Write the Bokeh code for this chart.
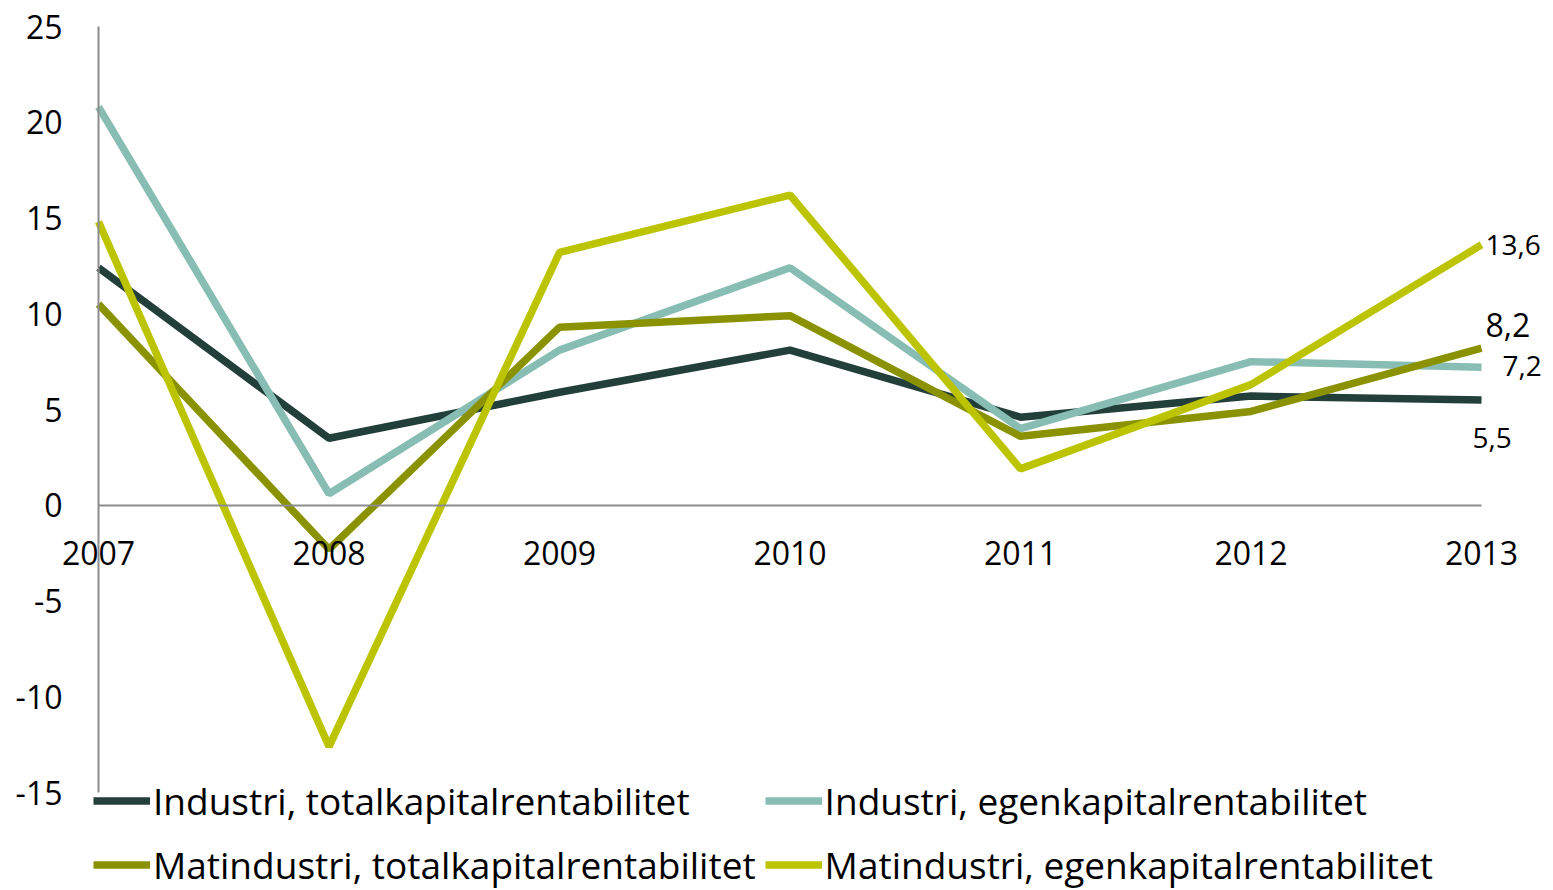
from bokeh.plotting import figure
from bokeh.models import Range1d, FixedTicker, Legend, LegendItem, ColumnDataSource
from bokeh.core.properties import value
from bokeh.embed import file_html
from bokeh.resources import INLINE

years = [2007, 2008, 2009, 2010, 2011, 2012, 2013]
industri_total = [12.4, 3.5, 5.9, 8.1, 4.6, 5.7, 5.5]
industri_egen = [20.8, 0.6, 8.1, 12.4, 4.0, 7.5, 7.2]
mat_total = [10.5, -2.3, 9.3, 9.9, 3.6, 4.9, 8.2]
mat_egen = [14.8, -12.6, 13.2, 16.2, 1.9, 6.3, 13.6]
y_ticks = [-15, -10, -5, 0, 5, 10, 15, 20, 25]
names = ["Industri, totalkapitalrentabilitet", "Industri, egenkapitalrentabilitet",
         "Matindustri, totalkapitalrentabilitet", "Matindustri, egenkapitalrentabilitet"]
colors = ["#233F3A", "#87BDB3", "#8B9200", "#BCC400"]

FONT = "Open Sans"
W, H = 1553, 890

# layout (pixels): where the data box sits inside the canvas
X_LEFT_PX, X_RIGHT_PX = 98, 1481
Y_TOP_PX, Y_BOT_PX = 26, 792
x0, x1 = years[0], years[-1]
y0, y1 = y_ticks[0], y_ticks[-1]
sx = (X_RIGHT_PX - X_LEFT_PX) / (x1 - x0)
sy = (Y_BOT_PX - Y_TOP_PX) / (y1 - y0)
x_range = Range1d(x0 - X_LEFT_PX / sx, x1 + (W - X_RIGHT_PX) / sx)
y_range = Range1d(y0 - (H - Y_BOT_PX) / sy, y1 + Y_TOP_PX / sy)

p = figure(width=W, height=H, output_backend="svg", toolbar_location=None,
           x_range=x_range, y_range=y_range,
           min_border_left=0, min_border_right=0, min_border_top=0, min_border_bottom=0)
p.background_fill_color = "white"
p.border_fill_color = "white"
p.outline_line_color = None
p.xgrid.visible = False
p.ygrid.visible = False

# axes
p.xaxis.fixed_location = 0
p.xaxis.bounds = (x0, x1)
p.xaxis.ticker = FixedTicker(ticks=years)
p.xaxis.major_tick_line_color = None
p.xaxis.minor_tick_line_color = None
p.xaxis.axis_line_color = "#8C8C8C"
p.xaxis.axis_line_width = 2
p.xaxis.major_label_text_font = FONT
p.xaxis.major_label_text_font_size = "32px"
p.xaxis.major_label_text_color = "black"
p.xaxis.major_label_standoff = 30

p.yaxis.fixed_location = x0
p.yaxis.bounds = (y0, y1)
p.yaxis.ticker = FixedTicker(ticks=y_ticks)
p.yaxis.major_label_overrides = {t: str(t) for t in y_ticks}
p.yaxis.major_tick_line_color = None
p.yaxis.minor_tick_line_color = None
p.yaxis.axis_line_color = "#8C8C8C"
p.yaxis.axis_line_width = 2
p.yaxis.major_label_text_font = FONT
p.yaxis.major_label_text_font_size = "32px"
p.yaxis.major_label_text_color = "black"
p.yaxis.major_label_standoff = 30

series = [industri_total, industri_egen, mat_total, mat_egen]
renderers = []
for vals, c in zip(series, colors):
    r = p.line(years, vals, line_color=c, line_width=7.5)
    renderers.append(r)

# end labels
def fmt(v):
    return ("%.1f" % v).replace(".", ",")

label_specs = [
    (industri_total[-1], -9, -38, "28px"),
    (industri_egen[-1], 21, 1, "28px"),
    (mat_total[-1], 4, 23, "32px"),
    (mat_egen[-1], 4, 0, "28px"),
]
for v, xo, yo, fs in label_specs:
    src = ColumnDataSource(dict(x=[years[-1]], y=[v], t=[fmt(v)]))
    p.text(x="x", y="y", text="t", source=src, x_offset=xo, y_offset=-yo,
           text_font=value(FONT), text_font_size=fs, text_color="black",
           text_align="left", text_baseline="middle")

legend = Legend(items=[LegendItem(label=n, renderers=[r]) for n, r in zip(names, renderers)],
                location=(93, -2), orientation="horizontal", ncols=2)
legend.label_text_font = FONT
legend.label_text_font_size = "37px"
legend.label_text_color = "black"
legend.glyph_width = 57
legend.glyph_height = 55
legend.label_height = 40
legend.label_standoff = 3
legend.spacing = 9
legend.padding = 0
legend.margin = 0
legend.border_line_color = None
legend.background_fill_alpha = 0
p.add_layout(legend, "center")

open("out.html", "w").write(file_html(p, INLINE))
